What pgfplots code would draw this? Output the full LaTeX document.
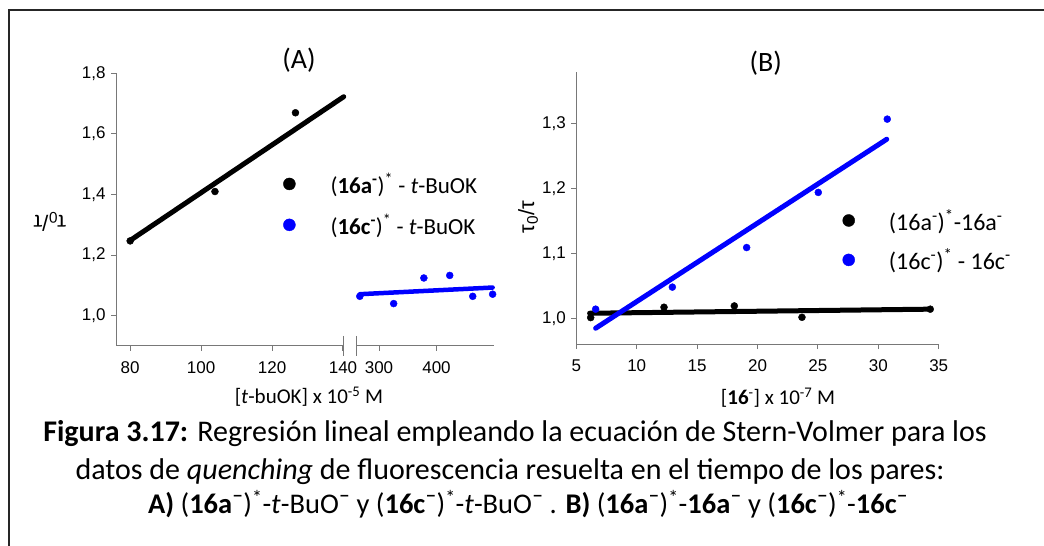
\documentclass[border=0pt]{standalone}
\usepackage{fontspec}
\setmainfont{Carlito}
\newfontfamily\arialf{Liberation Sans}
\usepackage{pgfplots}
\pgfplotsset{compat=1.18}
\definecolor{axgray}{RGB}{120,120,120}
\definecolor{myblue}{RGB}{0,0,255}

\pgfplotsset{
  mybase/.style={
    scale only axis,
    axis line style={-, axgray, line width=1bp},
    tick style={axgray, line width=1bp},
    tick align=outside,
    major tick length=5bp,
    clip=false,
    /pgf/number format/assume math mode=true,
    ticklabel style={font=\arialf\fontsize{17bp}{20bp}\selectfont},
    /pgf/number format/use comma,
    /pgf/number format/fixed,
    xticklabel style={yshift=-7bp},
    yticklabel style={xshift=-2bp},
  },
  legdot/.style={legend image code/.code={\fill[#1] (0bp,0bp) circle (6bp);}},
}

\begin{document}
\begin{tikzpicture}[x=1bp,y=1bp]
\useasboundingbox (0,0) rectangle (1044,546);
% frame
\draw[line width=2bp, black!85] (9,0) -- (9,535.5) -- (1044,535.5);

% ===== Panel A left segment =====
\begin{axis}[mybase,
  at={(116bp,200bp)}, anchor=south west,
  width=227bp, height=272.6bp,
  xmin=76, xmax=140, ymin=0.9, ymax=1.8,
  axis x line*=bottom, axis y line*=left,
  xtick={80,100,120,140},
  ytick={1.0,1.2,1.4,1.6,1.8},
  yticklabel style={/pgf/number format/precision=1,/pgf/number format/fixed zerofill},
  ylabel={\arialf\fontsize{22bp}{26bp}\selectfont τ\textsubscript{0}/τ},
  ylabel style={at={(axis description cs:-0.291,0.455)}, anchor=center, rotate=90},
  xlabel={\fontsize{21bp}{24bp}\selectfont [\textit{t}-buOK] x 10\textsuperscript{-5} M},
  xlabel style={at={(axis description cs:0.850,-0.2128)}, anchor=base},
  legend style={at={(axis description cs:0.7357,0.5194)}, anchor=west,
    draw=none, fill=none, inner sep=0pt, row sep=19bp, column sep=35bp,
    nodes={inner sep=0pt}, font=\fontsize{23bp}{27bp}\selectfont},
  legend cell align=left,
]
\addplot[only marks, mark=*, mark size=3.5bp, black, forget plot] coordinates {
  (80,1.247) (103.9,1.410) (126.6,1.670)
};
\addplot[black, line width=5bp, line cap=round, forget plot] coordinates {
  (79.8,1.247) (140.2,1.723)
};
\addlegendimage{legdot=black}
\addlegendentry{(\textbf{16a\textsuperscript{-}})\textsuperscript{*} - \textit{t}-BuOK}
\addlegendimage{legdot=myblue}
\addlegendentry{(\textbf{16c\textsuperscript{-}})\textsuperscript{*} - \textit{t}-BuOK}
\end{axis}

% ===== Panel A right segment =====
\begin{axis}[mybase,
  at={(356bp,200bp)}, anchor=south west,
  width=138bp, height=272.6bp,
  xmin=260, xmax=500, ymin=0.9, ymax=1.8,
  axis x line*=bottom, axis y line=none,
  xtick={300,400}, ytick=\empty,
]
\addplot[only marks, mark=*, mark size=3.5bp, myblue] coordinates {
  (266.6,1.064) (325.5,1.040) (378,1.1245) (423,1.133) (463,1.064) (497.6,1.071)
};
\addplot[myblue, line width=4.5bp, line cap=round] coordinates {
  (266.6,1.071) (497.6,1.093)
};
\end{axis}

% axis break marks
\draw[axgray, line width=1bp] (343,210) -- (343,190);
\draw[axgray, line width=1bp] (356,210) -- (356,190);

% ===== Panel B =====
\begin{axis}[mybase,
  at={(576.3bp,201.8bp)}, anchor=south west,
  width=362.4bp, height=272.4bp,
  xmin=5, xmax=35, ymin=0.96, ymax=1.38,
  axis x line*=bottom, axis y line*=left,
  xtick={5,10,...,35},
  ytick={1.0,1.1,1.2,1.3},
  yticklabel style={/pgf/number format/precision=1,/pgf/number format/fixed zerofill},
  ylabel={\arialf\fontsize{22bp}{26bp}\selectfont τ\textsubscript{0}/τ},
  ylabel style={at={(axis description cs:-0.133,0.467)}, anchor=center},
  xlabel={\fontsize{21bp}{24bp}\selectfont [\textbf{16}\textsuperscript{-}] x 10\textsuperscript{-7} M},
  xlabel style={at={(axis description cs:0.5566,-0.2232)}, anchor=base},
  legend style={at={(axis description cs:0.734,0.3818)}, anchor=west,
    draw=none, fill=none, inner sep=0pt, row sep=17bp, column sep=34bp,
    nodes={inner sep=0pt}, font=\fontsize{24bp}{28bp}\selectfont},
  legend cell align=left,
]
\addplot[only marks, mark=*, mark size=3.5bp, black, forget plot] coordinates {
  (6.19,1.001) (12.26,1.017) (18.08,1.019) (23.68,1.0015) (34.3,1.014)
};
\addplot[black, line width=5bp, line cap=round, forget plot] coordinates {
  (6.1,1.0077) (34.3,1.014)
};
\addplot[only marks, mark=*, mark size=3.5bp, myblue, forget plot] coordinates {
  (6.6,1.014) (12.95,1.048) (19.1,1.109) (25.03,1.194) (30.74,1.307)
};
\addplot[myblue, line width=5bp, line cap=round, forget plot] coordinates {
  (6.6,0.9846) (30.7,1.276)
};
\addlegendimage{legdot=black}
\addlegendentry{(16a\textsuperscript{-})\textsuperscript{*}-16a\textsuperscript{-}}
\addlegendimage{legdot=myblue}
\addlegendentry{(16c\textsuperscript{-})\textsuperscript{*} - 16c\textsuperscript{-}}
\end{axis}

% titles
\node[font=\fontsize{28bp}{32bp}\selectfont] at (299,486) {(A)};
\node[font=\fontsize{28bp}{32bp}\selectfont] at (765.7,483) {(B)};

% caption
\node[anchor=base, font=\fontsize{30bp}{34bp}\selectfont] at (515,104)
  {\textbf{Figura 3.17:} Regresión lineal empleando la ecuación de Stern-Volmer para los};
\node[anchor=base, font=\fontsize{30bp}{34bp}\selectfont] at (510,66)
  {datos de \textit{quenching} de fluorescencia resuelta en el tiempo de los pares:};
\node[anchor=base, font=\fontsize{28.5bp}{33bp}\selectfont] at (528,32)
  {\textbf{A)} (\textbf{16a}¯)\textsuperscript{*}-\textit{t}-BuO¯ y (\textbf{16c}¯)\textsuperscript{*}-\textit{t}-BuO¯ . \textbf{B)} (\textbf{16a}¯)\textsuperscript{*}-\textbf{16a}¯ y (\textbf{16c}¯)\textsuperscript{*}-\textbf{16c}¯};
\end{tikzpicture}
\end{document}
